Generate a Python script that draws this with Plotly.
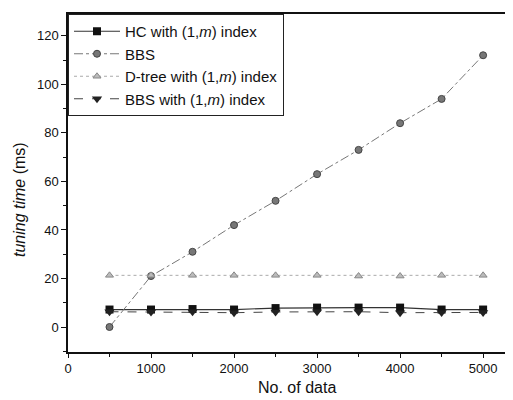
import plotly.graph_objects as go

x_vals = [500, 1000, 1500, 2000, 2500, 3000, 3500, 4000, 4500, 5000]
hc_idx = [7.2, 7.2, 7.4, 7.2, 7.8, 8.0, 8.0, 8.0, 7.2, 7.2]
bbs = [0, 21, 31, 42, 52, 63, 73, 84, 94, 112]
dtree_idx = [21.3, 21.3, 21.3, 21.3, 21.3, 21.3, 21.0, 21.0, 21.3, 21.3]
bbs_idx = [6.3, 6.2, 6.3, 5.9, 6.2, 6.3, 6.3, 5.9, 6.0, 6.0]

W, H = 505, 392
ML, MR, MT, MB = 60, 0, 6, 48
PW, PH = W - ML - MR, H - MT - MB

fig = go.Figure()
fig.add_trace(go.Scatter(x=x_vals, y=hc_idx, mode="lines+markers",
    name="HC with (1,<i>m</i>) index",
    line=dict(color="#333333", width=1.2),
    marker=dict(symbol="square", size=8, color="#111111")))
fig.add_trace(go.Scatter(x=x_vals, y=bbs, mode="lines+markers",
    name="BBS",
    line=dict(color="#777777", width=1, dash="dashdot"),
    marker=dict(symbol="circle", size=7, color="#777777",
                line=dict(color="#444444", width=1))))
fig.add_trace(go.Scatter(x=x_vals, y=dtree_idx, mode="lines+markers",
    name="D-tree with (1,<i>m</i>) index",
    line=dict(color="#aaaaaa", width=1, dash="dot"),
    marker=dict(symbol="triangle-up", size=7, color="#bbbbbb",
                line=dict(color="#888888", width=1))))
fig.add_trace(go.Scatter(x=x_vals, y=bbs_idx, mode="lines+markers",
    name="BBS with (1,<i>m</i>) index",
    line=dict(color="#444444", width=1, dash="dash"),
    marker=dict(symbol="triangle-down", size=9, color="#222222")))

fig.update_layout(
    width=W, height=H,
    margin=dict(l=ML, r=MR, t=MT, b=MB, autoexpand=False),
    paper_bgcolor="white", plot_bgcolor="white",
    font=dict(family="Liberation Sans, Arial, sans-serif", color="#111111", size=13),
    legend=dict(x=0, y=1, xanchor="left", yanchor="top",
                bordercolor="#222222", borderwidth=1, bgcolor="white",
                font=dict(size=15), tracegroupgap=0, itemwidth=46),
    showlegend=True,
    annotations=[
        dict(text="No. of data", x=(289 - ML) / PW, y=-(369 - (MT + PH)) / PH,
             xref="paper", yref="paper", xanchor="center", yanchor="top",
             showarrow=False, font=dict(size=16)),
        dict(text="<i>tuning time</i> (ms)", x=(12 - ML) / PW, y=((MT + PH) - 192) / PH,
             xref="paper", yref="paper", xanchor="center", yanchor="middle",
             showarrow=False, textangle=-90, font=dict(size=16)),
    ],
)

fig.update_xaxes(range=[0, 5360], tickvals=[0, 1000, 2000, 3000, 4000, 5000],
    showgrid=False, zeroline=False, showline=True, linecolor="#111111", linewidth=1.5,
    mirror=True, ticks="outside", ticklen=4, tickcolor="#111111", automargin=False,
    minor=dict(tickvals=[500, 1500, 2500, 3500, 4500], ticks="outside", ticklen=3, tickcolor="#111111"),
    tickfont=dict(size=13))
fig.update_yaxes(range=[-10.3, 129], tickvals=[0, 20, 40, 60, 80, 100, 120],
    showgrid=False, zeroline=False, showline=True, linecolor="#111111", linewidth=1.5,
    ticks="outside", ticklen=5, tickcolor="#111111", automargin=False,
    minor=dict(tickvals=[-10, 10, 30, 50, 70, 90, 110], ticks="outside", ticklen=3, tickcolor="#111111"),
    tickfont=dict(size=13))

fig.write_html("out.html")
